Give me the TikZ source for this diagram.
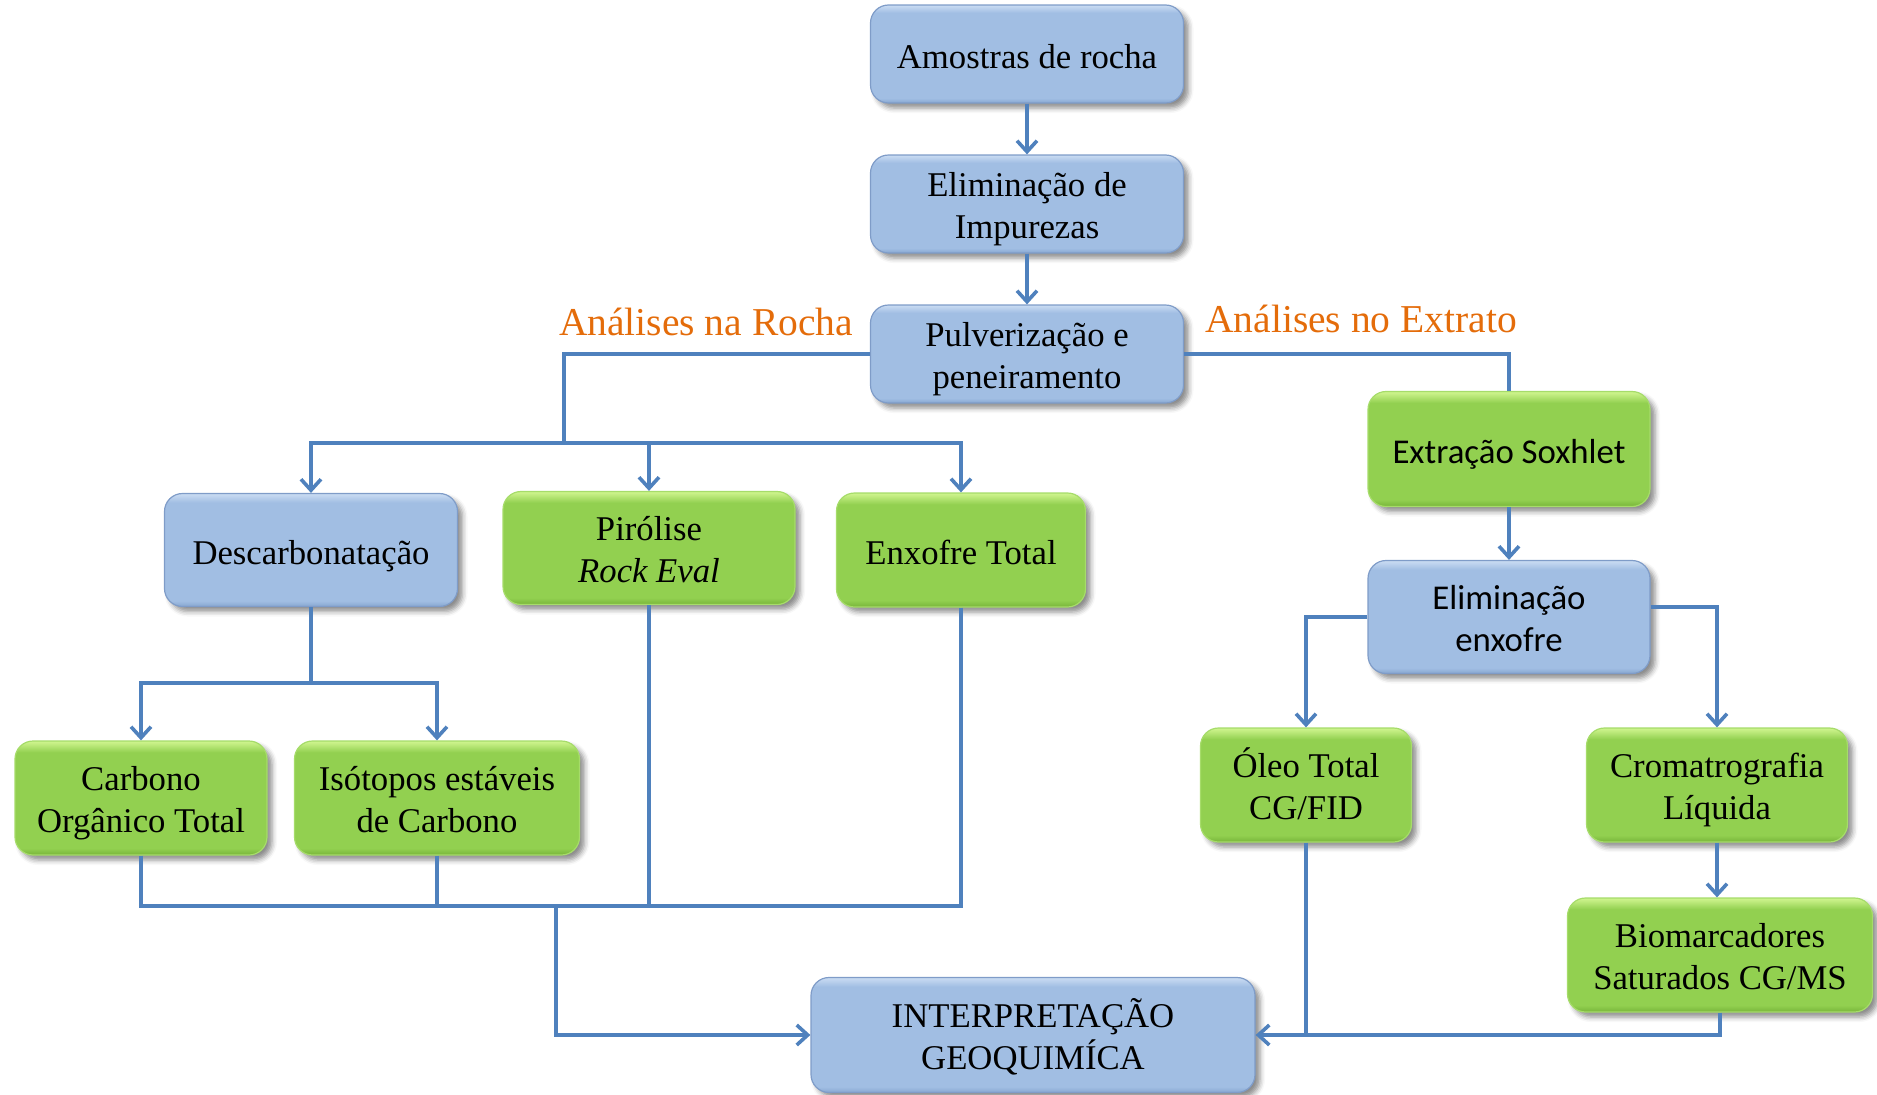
\documentclass[tikz,border=0pt]{standalone}
\usepackage{fontspec}
\setmainfont{Liberation Serif}
\newfontfamily\calib{Carlito}
\usetikzlibrary{arrows.meta,shadows.blur}
\definecolor{lnblue}{HTML}{4F81BD}
\definecolor{bmain}{HTML}{A1BEE3}
\definecolor{blight}{HTML}{C6D9F1}
\definecolor{bdark}{HTML}{86A6D0}
\definecolor{bborder}{HTML}{7F9CC8}
\definecolor{gmain}{HTML}{92D050}
\definecolor{glight}{HTML}{CBF28A}
\definecolor{gdark}{HTML}{78B53A}
\definecolor{gborder}{HTML}{A6DC6A}
\definecolor{orangetxt}{HTML}{E46C0A}
\pgfdeclareverticalshading{bluebevel}{100bp}{color(0bp)=(bdark); color(25bp)=(bdark); color(27.5bp)=(bmain); color(71bp)=(bmain); color(74.5bp)=(blight); color(100bp)=(blight)}
\pgfdeclareverticalshading{greenbevel}{100bp}{color(0bp)=(gdark); color(25bp)=(gdark); color(28bp)=(gmain); color(70bp)=(gmain); color(74.5bp)=(glight); color(100bp)=(glight)}
\begin{document}
\begin{tikzpicture}[x=1pt,y=-1pt,
  box/.style={rounded corners=18pt, line width=1.2pt, align=center, inner sep=0pt,
    font=\fontsize{34.7}{42}\selectfont,
    blur shadow={shadow xshift=5pt, shadow yshift=-5pt, shadow blur radius=5pt, shadow opacity=45}},
  oneline/.style={execute at begin node={\rule{0pt}{38pt}}, execute at end node={\rule[-10pt]{0pt}{0pt}}},
  twoline/.style={execute at begin node={\rule{0pt}{80pt}}, execute at end node={\rule[-11pt]{0pt}{0pt}}},
  sans/.style={font=\calib\fontsize{34.8}{42}\selectfont},
  bluebox/.style={box, shade, shading=bluebevel, draw=bborder},
  greenbox/.style={box, shade, shading=greenbevel, draw=gborder},
  ln/.style={draw=lnblue, line width=3.6pt},
  arr/.style={ln, -{Straight Barb[length=11pt,width=20pt]}},
  lbl/.style={text=orangetxt, font=\fontsize{39.5}{44}\selectfont, anchor=base}
]
\useasboundingbox (0,0) rectangle (1877,1095);

% nodes
\node[bluebox, oneline, minimum width=313pt, minimum height=98pt] (amostras) at (1027,54) {Amostras de rocha};
\node[bluebox, twoline, minimum width=313pt, minimum height=98pt] (impurezas) at (1027,204) {Eliminação de\\Impurezas};
\node[bluebox, twoline, minimum width=313pt, minimum height=98pt] (pulver) at (1027,354) {Pulverização e\\peneiramento};

\node[bluebox, oneline, minimum width=293pt, minimum height=113pt] (descarb) at (311,550) {Descarbonatação};
\node[greenbox, twoline, minimum width=292pt, minimum height=113pt] (pirolise) at (649,548) {Pirólise\\\textit{Rock Eval}};
\node[greenbox, oneline, minimum width=249pt, minimum height=114pt] (enxofre) at (961,550) {Enxofre Total};

\node[greenbox, twoline, minimum width=252pt, minimum height=114pt] (carbono) at (141,798) {Carbono\\Orgânico Total};
\node[greenbox, twoline, minimum width=285pt, minimum height=114pt] (isotopos) at (437,798) {Isótopos estáveis\\de Carbono};

\node[bluebox, twoline, minimum width=444pt, minimum height=115pt] (interp) at (1033,1035) {INTERPRETAÇÃO\\GEOQUIMÍCA};

\node[greenbox, oneline, sans, minimum width=282pt, minimum height=115pt] (extracao) at (1509,449) {Extração Soxhlet};
\node[bluebox, twoline, sans, minimum width=282pt, minimum height=113pt] (elimenx) at (1509,617) {Eliminação\\enxofre};
\node[greenbox, twoline, minimum width=211pt, minimum height=114pt] (oleo) at (1306,785) {Óleo Total\\CG/FID};
\node[greenbox, twoline, minimum width=261pt, minimum height=114pt] (cromato) at (1717,785) {Cromatrografia\\Líquida};
\node[greenbox, twoline, minimum width=305pt, minimum height=114pt] (biomarc) at (1720,955) {Biomarcadores\\Saturados CG/MS};

% labels
\node[lbl] (lblrocha) at (706,335) {Análises na Rocha};
\node[lbl] (lblextr) at (1361,332) {Análises no Extrato};

% helper coordinates
\coordinate (busL) at (564,443);
\coordinate (busD) at (311,683);
\coordinate (busB) at (556,906);

% connectors
\draw[arr] (amostras) -- (impurezas);
\draw[arr] (impurezas) -- (pulver);

\draw[ln] (pulver.west) -| (busL);
\draw[arr] (busL) -| (descarb.north);
\draw[arr] (busL) -| (pirolise.north);
\draw[arr] (busL) -| (enxofre.north);

\draw[ln] (descarb.south) -- (busD);
\draw[arr] (busD) -| (carbono.north);
\draw[arr] (busD) -| (isotopos.north);

\draw[ln] (carbono.south) |- (busB);
\draw[ln] (isotopos.south) |- (busB);
\draw[ln] (pirolise.south) |- (busB);
\draw[ln] (enxofre.south) |- (busB);
\draw[arr] (busB) |- (interp.west);

\draw[ln] (pulver.east) -| (extracao.north);
\draw[arr] (extracao) -- (elimenx);
\draw[arr] (elimenx.west) -| (oleo.north);
\draw[arr] ([yshift=10pt]elimenx.east) -| (cromato.north);
\draw[arr] (cromato.south) -- (cromato.south |- biomarc.north);
\draw[ln] (oleo.south) -- (oleo.south |- interp.east);
\draw[arr] (biomarc.south) |- (interp.east);
\end{tikzpicture}
\end{document}
